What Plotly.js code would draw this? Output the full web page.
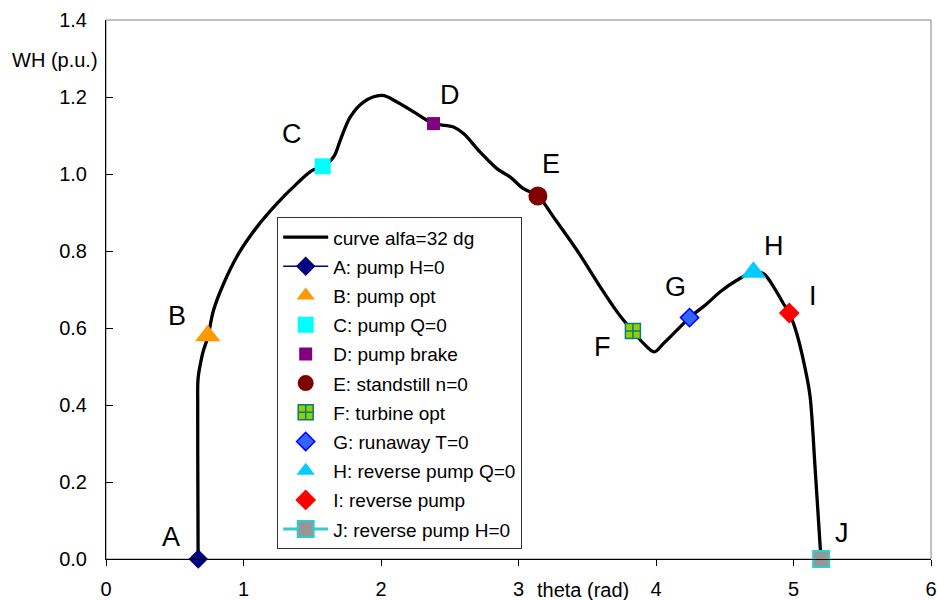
<!DOCTYPE html>
<html>
<head>
<meta charset="utf-8">
<script src="https://cdn.plot.ly/plotly-3.0.1.min.js"></script>
<style>html,body{margin:0;padding:0;background:#fff;}#chart{width:937px;height:600px;}</style>
</head>
<body>
<div id="chart"></div>
<script>
// Curve alfa = 32 dg
const curveX = [0.670, 0.668, 0.667, 0.670, 0.697, 0.709, 0.740, 0.782, 0.855, 0.964, 1.097, 1.243, 1.388, 1.497, 1.576, 1.655, 1.703, 1.776, 1.873, 2.007, 2.116, 2.261, 2.382, 2.527, 2.600, 2.721, 2.843, 2.940, 3.036, 3.141, 3.255, 3.425, 3.594, 3.691, 3.764, 3.832, 3.909, 3.987, 4.055, 4.176, 4.244, 4.370, 4.467, 4.588, 4.709, 4.782, 4.855, 4.927, 4.969, 5.025, 5.097, 5.121, 5.158, 5.194, 5.201];
const curveY = [0.000, 0.200, 0.400, 0.470, 0.525, 0.542, 0.576, 0.646, 0.715, 0.793, 0.862, 0.923, 0.975, 1.009, 1.020, 1.044, 1.087, 1.148, 1.187, 1.204, 1.187, 1.156, 1.131, 1.122, 1.105, 1.057, 1.014, 0.992, 0.962, 0.943, 0.888, 0.802, 0.707, 0.655, 0.620, 0.592, 0.560, 0.538, 0.560, 0.603, 0.627, 0.663, 0.694, 0.724, 0.745, 0.741, 0.707, 0.663, 0.639, 0.584, 0.473, 0.421, 0.231, 0.032, 0.000];

// Operating points A..J
const pointLetters = ["A", "B", "C", "D", "E", "F", "G", "H", "I", "J"];
const pointNames = ["A: pump H=0", "B: pump opt", "C: pump Q=0", "D: pump brake", "E: standstill n=0", "F: turbine opt", "G: runaway T=0", "H: reverse pump Q=0", "I: reverse pump", "J: reverse pump H=0"];
const pointX = [0.671, 0.740, 1.576, 2.382, 3.141, 3.832, 4.244, 4.709, 4.969, 5.201];
const pointY = [0.000, 0.580, 1.020, 1.131, 0.943, 0.592, 0.627, 0.745, 0.639, 0.000];

// Letter label positions
const labelX = [0.474, 0.518, 1.355, 2.500, 3.238, 3.610, 4.140, 4.855, 5.143, 5.355];
const labelY = [0.057, 0.630, 1.105, 1.205, 1.025, 0.550, 0.706, 0.812, 0.682, 0.068];

const curveName = "curve alfa=32 dg";
const xTickVals = [0, 1, 2, 3, 4, 5, 6];
const yTickVals = [0, 0.2, 0.4, 0.6, 0.8, 1.0, 1.2, 1.4];

const styles = [
  {mode: "lines+markers", marker: {symbol: "diamond", color: "#000080", size: 15}, line: {color: "#000080", width: 1.5}},
  {mode: "markers", marker: {symbol: "triangle-up", color: "#FF9900", size: 22}},
  {mode: "markers", marker: {symbol: "square", color: "#00FFFF", size: 16}},
  {mode: "markers", marker: {symbol: "square", color: "#800080", size: 13}},
  {mode: "markers", marker: {symbol: "circle", color: "#800000", size: 19}},
  {mode: "markers", marker: {symbol: "square-cross", color: "#99CC00", size: 15, line: {color: "#008080", width: 1.5}}},
  {mode: "markers", marker: {symbol: "diamond", color: "#3366FF", size: 14, line: {color: "#0000FF", width: 1.5}}},
  {mode: "markers", marker: {symbol: "triangle-up", color: "#00CCFF", size: 22}},
  {mode: "markers", marker: {symbol: "diamond", color: "#FF0000", size: 16}},
  {mode: "lines+markers", marker: {symbol: "square", color: "#969696", size: 16, line: {color: "#33CCCC", width: 2}}, line: {color: "#33CCCC", width: 3}}
];

const FONT = "Liberation Sans, Arial, sans-serif";

const traces = [{
  x: curveX, y: curveY, type: "scatter", mode: "lines", name: curveName,
  line: {color: "#000000", width: 3.3, shape: "spline", smoothing: 1},
  legendgroup: "g0", hoverinfo: "skip"
}];
for (let i = 0; i < pointNames.length; i++) {
  traces.push(Object.assign({
    x: [pointX[i]], y: [pointY[i]], type: "scatter", name: pointNames[i],
    legendgroup: "g" + (i + 1), cliponaxis: false
  }, styles[i]));
}

const annotations = [];
for (let i = 0; i < pointLetters.length; i++) {
  annotations.push({x: labelX[i], y: labelY[i], xref: "x", yref: "y", text: pointLetters[i],
    showarrow: false, font: {family: FONT, size: 27, color: "#000"}, xanchor: "center", yanchor: "middle"});
}
annotations.push({x: 0.578, y: 0, xref: "paper", yref: "paper", yshift: -31, text: "theta (rad)",
  showarrow: false, font: {family: FONT, size: 20, color: "#000"}, xanchor: "center", yanchor: "middle"});
annotations.push({x: -0.062, y: 0.925, xref: "paper", yref: "paper", text: "WH (p.u.)",
  showarrow: false, font: {family: FONT, size: 20, color: "#000"}, xanchor: "center", yanchor: "middle"});

const layout = {
  width: 937, height: 600,
  margin: {l: 106, r: 6, t: 20, b: 41, pad: 0},
  paper_bgcolor: "#fff", plot_bgcolor: "#fff",
  font: {family: FONT, size: 20, color: "#000"},
  showlegend: true,
  legend: {x: 0.2075, y: 0.634, xanchor: "left", yanchor: "top", bgcolor: "#fff",
    bordercolor: "#333", borderwidth: 1, font: {family: FONT, size: 19, color: "#000"},
    traceorder: "grouped", tracegroupgap: 1.5, itemwidth: 45},
  xaxis: {range: [0, 6], tickvals: xTickVals, ticktext: xTickVals.map(String),
    showgrid: false, zeroline: false, showline: true, linecolor: "#000", linewidth: 1,
    ticks: "outside", ticklen: 6, tickcolor: "#000", ticklabelstandoff: 6, fixedrange: true},
  yaxis: {range: [0, 1.4], tickvals: yTickVals, ticktext: yTickVals.map(v => v.toFixed(1)),
    showgrid: false, zeroline: false, showline: true, linecolor: "#000", linewidth: 1,
    ticks: "inside", ticklen: 7, tickcolor: "#000", ticklabelstandoff: 14, fixedrange: true},
  shapes: [{type: "rect", xref: "paper", yref: "paper", x0: 0, x1: 1, y0: 0, y1: 1,
    line: {color: "#808080", width: 1}, layer: "below"}],
  annotations: annotations
};

Plotly.newPlot("chart", traces, layout, {displayModeBar: false, staticPlot: true});
</script>
</body>
</html>
